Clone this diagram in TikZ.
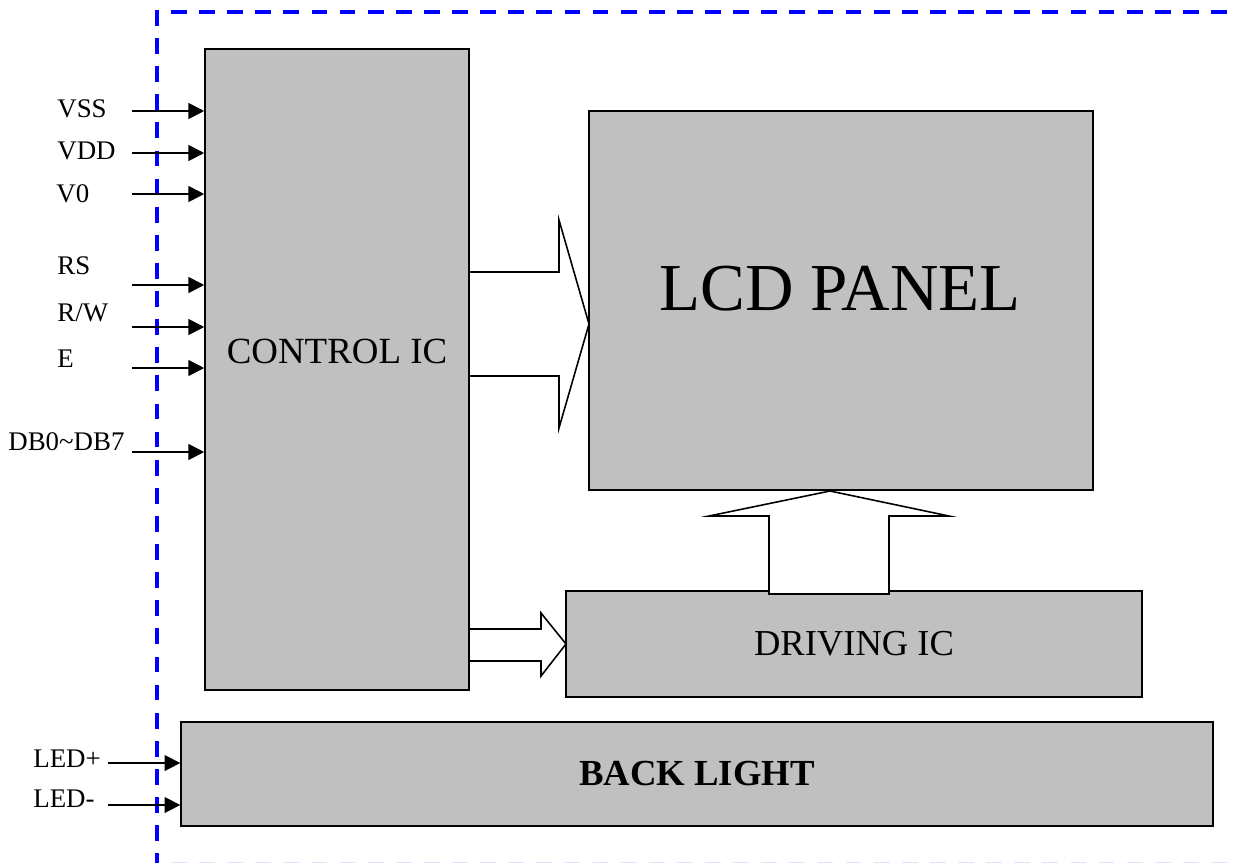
\documentclass[tikz,border=0pt]{standalone}
\usepackage{fontspec}
\setmainfont{Liberation Serif}
\usepackage{tikz}
\usetikzlibrary{positioning,arrows.meta}
\definecolor{panelgray}{RGB}{192,192,192}

\begin{document}
\begin{tikzpicture}[
    x=0.02cm, y=-0.02cm,
    blk/.style={draw, line width=0.9pt, fill=panelgray, inner sep=0pt, align=center},
    pinlbl/.style={font=\fontsize{15.3}{17}\selectfont, anchor=base west, inner sep=0pt},
    sig/.style={-{Triangle[length=9pt,width=9pt]}, line width=1pt},
    bus/.style={draw, line width=0.9pt, line join=miter},
    frame/.style={blue, line width=2.3pt, dash pattern=on 9pt off 7pt}
  ]
  \useasboundingbox (0,0) rectangle (1235,863);

  % module outline
  \draw[frame] (157,10) -- (157,863);
  \draw[frame] (171,12) -- (1235,12);
  \draw[frame, blue!12, line width=1pt] (171,862.5) -- (1235,862.5);

  % blocks
  \node[blk, minimum width=5.28cm, minimum height=12.82cm] (ctrl) at (337,369.5) {};
  \node[font=\fontsize{21}{24}\selectfont, inner sep=0pt] (ctrltxt) at (337,351) {CONTROL IC};
  \node[blk, minimum width=10.08cm, minimum height=7.58cm] (lcd) at (841,300.5) {};
  \node[font=\fontsize{38.2}{42}\selectfont, inner sep=0pt] (lcdtxt) at (840,289) {LCD PANEL};
  \node[blk, minimum width=11.52cm, minimum height=2.12cm,
        font=\fontsize{20.8}{24}\selectfont] (drv) at (854,644) {DRIVING IC};
  \node[blk, minimum width=20.64cm, minimum height=2.08cm,
        font=\bfseries\fontsize{20.9}{24}\selectfont] (bl) at (697,774) {BACK LIGHT};

  % control inputs
  \node[pinlbl] (lvss) at (57,117) {VSS};
  \node[pinlbl] (lvdd) at (57,159) {VDD};
  \node[pinlbl] (lvo)  at (56,202) {V0};
  \node[pinlbl] (lrs)  at (57,274) {RS};
  \node[pinlbl] (lrw)  at (57,321) {R/W};
  \node[pinlbl] (le)   at (57,367) {E};
  \node[pinlbl] (ldb)  at (8,450) {DB0\char`\~DB7};
  \coordinate (vss) at (132,111);
  \coordinate (vdd) at (132,153);
  \coordinate (vo)  at (132,194);
  \coordinate (rs)  at (132,285);
  \coordinate (rw)  at (132,327);
  \coordinate (e)   at (132,368);
  \coordinate (db)  at (132,452);
  \draw[sig] (vss) -- (vss -| ctrl.west);
  \draw[sig] (vdd) -- (vdd -| ctrl.west);
  \draw[sig] (vo)  -- (vo -| ctrl.west);
  \draw[sig] (rs)  -- (rs -| ctrl.west);
  \draw[sig] (rw)  -- (rw -| ctrl.west);
  \draw[sig] (e)   -- (e -| ctrl.west);
  \draw[sig] (db)  -- (db -| ctrl.west);

  % backlight inputs
  \node[pinlbl] (lledp) at (33,767) {LED+};
  \node[pinlbl] (lledm) at (33,807) {LED-};
  \coordinate (ledp) at (108,763);
  \coordinate (ledm) at (108,805);
  \draw[sig] (ledp) -- (ledp -| bl.west);
  \draw[sig] (ledm) -- (ledm -| bl.west);

  % hollow bus arrows
  \draw[bus] (469,272) -- (559,272) -- (559,220) -- (589,324) -- (559,428) -- (559,376) -- (469,376);
  \draw[bus] (469,629) -- (541,629) -- (541,613) -- (566,644) -- (541,676) -- (541,661) -- (469,661);
  \draw[bus, fill=white] (769,594) -- (769,516) -- (709,516) -- (830,491) -- (949,516) -- (889,516) -- (889,594) -- cycle;
\end{tikzpicture}
\end{document}
